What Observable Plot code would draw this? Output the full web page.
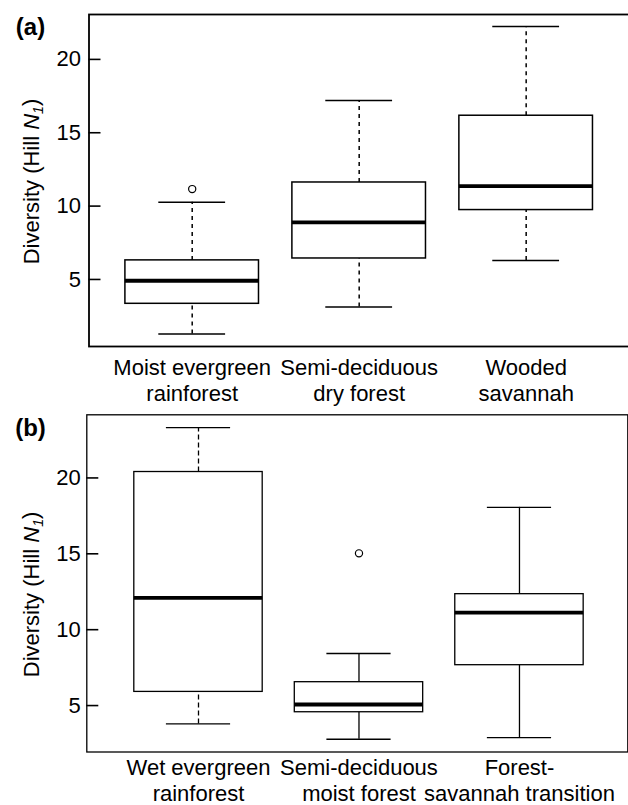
<!DOCTYPE html>
<html>
<head>
<meta charset="utf-8">
<script src="https://cdn.jsdelivr.net/npm/d3@7"></script>
<script src="https://cdn.jsdelivr.net/npm/@observablehq/plot@0.6"></script>
<style>
  html, body { margin: 0; padding: 0; background: white; overflow: hidden; }
  #chart svg { display: block; }
</style>
</head>
<body>
<div id="chart"></div>
<script>
// ---- Panel (a) data ----
const categoriesA = ["Moist evergreen\nrainforest", "Semi-deciduous\ndry forest", "Wooded\nsavannah"];
const lowA    = [1.28, 3.12, 6.30];
const q1A     = [3.34, 6.43, 9.73];
const medianA = [4.91, 8.89, 11.36];
const q3A     = [6.30, 11.61, 16.16];
const highA   = [10.27, 17.20, 22.25];
const outlierCatA   = [1];
const outlierValueA = [11.16];

// ---- Panel (b) data ----
const categoriesB = ["Wet evergreen\nrainforest", "Semi-deciduous\nmoist forest", "Forest-\nsavannah transition"];
const lowB    = [3.79, 2.78, 2.89];
const q1B     = [5.90, 4.56, 7.66];
const medianB = [12.10, 5.07, 11.13];
const q3B     = [20.39, 6.54, 12.34];
const highB   = [23.32, 8.43, 18.06];
const outlierCatB   = [2];
const outlierValueB = [15.03];

const yTicks = [5, 10, 15, 20];
const yLabel = "Diversity (Hill N1)";
const panelLetters = ["(a)", "(b)"];

const FONT = "'Liberation Sans', Arial, Helvetica, sans-serif";
const FS = "22px";
const WIDTH = 628;
const TICK_LEN = 12; // px, drawn inward from the frame

function buildRows(cats, lo, q1, med, q3, hi) {
  return cats.map((c, k) => ({i: k + 1, cat: c, lo: lo[k], q1: q1[k], med: med[k], q3: q3[k], hi: hi[k]}));
}

function panel(opts) {
  const {rows, outliers, cats, letter, xDomain, yDomain, height, marginTop, marginBottom, marginLeft, marginRight,
         frameWidth, lineWidth, isDashed, dash, labelDy, tickPad, xPad, letterDy} = opts;
  const hw = 0.4, cw = 0.2;
  const pxPerUnit = (WIDTH - marginLeft - marginRight) / (xDomain[1] - xDomain[0]);
  const tickUnits = TICK_LEN / pxPerUnit;
  const whisker = (filter, dasharray) => [
    Plot.ruleX(rows, {filter, x: "i", y1: "q3", y2: "hi", stroke: "black", strokeWidth: lineWidth, strokeDasharray: dasharray}),
    Plot.ruleX(rows, {filter, x: "i", y1: "lo", y2: "q1", stroke: "black", strokeWidth: lineWidth, strokeDasharray: dasharray})
  ];
  const plot = Plot.plot({
    width: WIDTH,
    height,
    marginTop, marginBottom, marginLeft, marginRight,
    style: {fontFamily: FONT, fontSize: FS, color: "black", background: "white"},
    x: {type: "linear", domain: xDomain},
    y: {type: "linear", domain: yDomain},
    marks: [
      whisker(d => isDashed(d.i), dash),
      whisker(d => !isDashed(d.i), null),
      Plot.ruleY(rows, {y: "hi", x1: d => d.i - cw, x2: d => d.i + cw, stroke: "black", strokeWidth: lineWidth}),
      Plot.ruleY(rows, {y: "lo", x1: d => d.i - cw, x2: d => d.i + cw, stroke: "black", strokeWidth: lineWidth}),
      Plot.rect(rows, {x1: d => d.i - hw, x2: d => d.i + hw, y1: "q1", y2: "q3", fill: "white", stroke: "black", strokeWidth: lineWidth}),
      Plot.ruleY(rows, {y: "med", x1: d => d.i - hw, x2: d => d.i + hw, stroke: "black", strokeWidth: 3.8}),
      Plot.dot(outliers, {x: "i", y: "v", r: 3.6, stroke: "black", fill: "none", strokeWidth: 1.2}),
      Plot.frame({stroke: "black", strokeWidth: frameWidth}),
      // inward tick marks on the left frame edge
      Plot.ruleY(yTicks, {y: d => d, x1: () => xDomain[0], x2: () => xDomain[0] + tickUnits, stroke: "black", strokeWidth: 1.6}),
      Plot.axisY({ticks: yTicks, tickSize: 0, tickPadding: tickPad, label: null, fontSize: FS}),
      Plot.axisX({ticks: [1, 2, 3], tickFormat: i => cats[i - 1], tickSize: 0, tickPadding: xPad, lineHeight: 1.17, label: null, fontSize: FS}),
      Plot.text([yLabel], {text: d => d, frameAnchor: "left", textAnchor: "middle", lineAnchor: "middle", rotate: -90, dx: -(marginLeft - 31), dy: labelDy, fontSize: FS, className: "ylab"}),
      Plot.text([letter], {text: d => d, frameAnchor: "top-left", textAnchor: "middle", lineAnchor: "middle", dx: -(marginLeft - 30), dy: letterDy, fontSize: "24px", fontWeight: "bold"})
    ]
  });
  // rich text for the y label: italic N with subscript 1
  plot.querySelectorAll(".ylab text").forEach(t => {
    const s = t.textContent;
    const idx = s.indexOf("N1");
    if (idx < 0) return;
    while (t.firstChild) t.removeChild(t.firstChild);
    const ns = "http://www.w3.org/2000/svg";
    t.appendChild(document.createTextNode(s.slice(0, idx)));
    const n = document.createElementNS(ns, "tspan");
    n.setAttribute("font-style", "italic");
    n.textContent = "N";
    t.appendChild(n);
    const sub = document.createElementNS(ns, "tspan");
    sub.setAttribute("font-style", "italic");
    sub.setAttribute("font-size", "65%");
    sub.setAttribute("dy", "0.3em");
    sub.textContent = "1";
    t.appendChild(sub);
    const close = document.createElementNS(ns, "tspan");
    close.setAttribute("dy", "-0.2em");
    close.textContent = s.slice(idx + 2);
    t.appendChild(close);
  });
  return plot;
}

const rowsA = buildRows(categoriesA, lowA, q1A, medianA, q3A, highA);
const rowsB = buildRows(categoriesB, lowB, q1B, medianB, q3B, highB);
const outA = outlierCatA.map((c, k) => ({i: c, v: outlierValueA[k]}));
const outB = outlierCatB.map((c, k) => ({i: c, v: outlierValueB[k]}));

const chart = document.getElementById("chart");
chart.appendChild(panel({
  rows: rowsA, outliers: outA, cats: categoriesA, letter: panelLetters[0],
  xDomain: [0.382, 3.62], yDomain: [0.43, 23.06],
  height: 410, marginTop: 14, marginBottom: 64, marginLeft: 88.5, marginRight: -1.2,
  frameWidth: 1.8, lineWidth: 1.5, isDashed: () => true, dash: "4,4", labelDy: 1, tickPad: 8, xPad: 10, letterDy: 13
}));
chart.appendChild(panel({
  rows: rowsB, outliers: outB, cats: categoriesB, letter: panelLetters[1],
  xDomain: [0.304, 3.675], yDomain: [1.94, 24.16],
  height: 395, marginTop: 4.3, marginBottom: 53.5, marginLeft: 86.3, marginRight: 0.7,
  frameWidth: 1.3, lineWidth: 1.3, isDashed: i => i === 1, dash: "5,3", labelDy: 11, tickPad: 6, xPad: 5, letterDy: 14
}));
</script>
</body>
</html>
